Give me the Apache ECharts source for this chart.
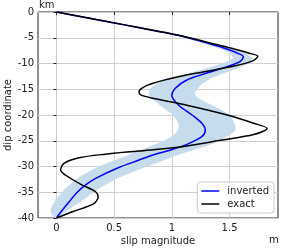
<!DOCTYPE html>
<html>
<head>
<meta charset="utf-8">
<script src="https://cdn.jsdelivr.net/npm/echarts@6/dist/echarts.min.js"></script>
<style>
html,body{margin:0;padding:0;background:#fff;}
#chart{width:283px;height:248px;}
</style>
</head>
<body>
<div id="chart"></div>
<script>
// dip coordinate (km) and slip magnitude (m)
var exactDip  = [0, -1, -2, -3, -4, -5, -6, -7, -8, -8.6, -9.5, -10.5, -11.6, -12.9, -14.2, -15.5, -16.1, -16.8, -18.1, -20, -21.6, -22.6, -23.8, -24.9, -26.2, -27, -27.6, -28.3, -29.4, -30.7, -31.7, -33.6, -34.9, -35.9, -37.2, -38.8, -40];
var exactSlip = [0, 0.24, 0.47, 0.71, 0.94, 1.15, 1.33, 1.51, 1.67, 1.745, 1.70, 1.54, 1.28, 0.99, 0.79, 0.715, 0.73, 0.845, 1.13, 1.48, 1.71, 1.825, 1.71, 1.42, 1.075, 0.71, 0.425, 0.195, 0.065, 0.036, 0.08, 0.223, 0.339, 0.361, 0.324, 0.137, 0];

var invDip  = [0, -1, -2, -3, -4, -5, -6, -7, -8, -8.7, -9.65, -10.6, -11.8, -13.2, -14.8, -16.2, -18.1, -20, -21.6, -22.9, -24.2, -25.7, -26.8, -27.8, -28.8, -30.2, -32.3, -33.6, -35, -36.9, -38.5, -40];
var invSlip = [0, 0.24, 0.47, 0.71, 0.94, 1.14, 1.30, 1.45, 1.57, 1.62, 1.59, 1.48, 1.31, 1.13, 1.03, 1.0, 1.06, 1.175, 1.26, 1.29, 1.26, 1.13, 0.99, 0.83, 0.71, 0.54, 0.34, 0.25, 0.18, 0.108, 0.05, 0];

var bandDip   = [0, -2, -3, -4, -5, -6, -7, -8, -9, -10, -11, -12, -13, -14, -15, -16, -17, -18, -19, -20, -21, -22, -23, -24, -25, -26, -27, -28, -29, -30, -31, -32, -33, -34, -35, -36, -37, -38, -39, -40];
var bandLower = [0, 0.47, 0.705, 0.93, 1.11, 1.26, 1.40, 1.50, 1.53, 1.43, 1.29, 1.12, 0.96, 0.86, 0.81, 0.80, 0.84, 0.89, 0.95, 1.01, 1.04, 1.06, 1.05, 1.01, 0.93, 0.82, 0.70, 0.60, 0.48, 0.37, 0.28, 0.20, 0.14, 0.09, 0.05, 0.01, -0.02, -0.045, -0.05, -0.01];
var bandUpper = [0, 0.47, 0.715, 0.95, 1.16, 1.33, 1.50, 1.64, 1.70, 1.66, 1.56, 1.44, 1.33, 1.26, 1.22, 1.20, 1.25, 1.34, 1.43, 1.50, 1.53, 1.55, 1.55, 1.49, 1.42, 1.30, 1.16, 1.02, 0.91, 0.79, 0.67, 0.56, 0.47, 0.39, 0.32, 0.26, 0.20, 0.13, 0.07, 0.02];

var xTicks = [0, 0.5, 1, 1.5];

function pairs(xs, ys){ return xs.map(function(x,i){ return [x, ys[i]]; }); }

var FONT = 'DejaVu Sans';
var chart = echarts.init(document.getElementById('chart'), null, {renderer:'canvas'});
chart.setOption({
  animation: false,
  backgroundColor: '#fff',
  grid: {left: 38, right: 5, top: 12, bottom: 30, containLabel: false, outerBoundsMode: 'none',
    show: true, borderColor: '#222', borderWidth: 1, backgroundColor: 'transparent'},
  xAxis: {
    type: 'value', min: -0.16, max: 1.92,
    name: 'slip magnitude', nameLocation: 'middle', nameGap: 18, nameMoveOverlap: false,
    nameTextStyle: {fontFamily: FONT, fontSize: 10, color: '#222'},
    axisLine: {show: false},
    axisTick: {show: true, length: 3, inside: false, customValues: xTicks, lineStyle: {color: '#222'}},
    axisLabel: {customValues: xTicks, fontFamily: FONT, fontSize: 10, color: '#222', margin: 5,
      formatter: function(v){ return String(v); }},
    splitLine: {show: true, lineStyle: {color: '#cfcfcf', width: 1}}
  },
  yAxis: {
    type: 'value', min: -40, max: 0, interval: 5,
    name: 'dip coordinate', nameLocation: 'middle', nameGap: 25, nameRotate: 90, nameMoveOverlap: false,
    nameTextStyle: {fontFamily: FONT, fontSize: 10, color: '#222'},
    axisLine: {show: false},
    axisTick: {show: true, length: 3, inside: false, lineStyle: {color: '#222'}},
    axisLabel: {fontFamily: FONT, fontSize: 10, color: '#222', margin: 4},
    splitLine: {show: true, lineStyle: {color: '#cfcfcf', width: 1}}
  },
  legend: {
    right: 9, bottom: 35, orient: 'vertical',
    backgroundColor: '#fff', borderColor: '#cccccc', borderWidth: 1, borderRadius: 3,
    padding: [4, 5, 4, 4], itemGap: 3, itemWidth: 18, itemHeight: 1.5, icon: 'rect',
    textStyle: {fontFamily: FONT, fontSize: 10, color: '#222', padding: [0, 0, 0, 3]},
    data: ['inverted', 'exact']
  },
  graphic: [
    {type: 'text', left: 39, top: 0, style: {text: 'km', fontFamily: FONT, fontSize: 10, fill: '#222'}},
    {type: 'text', left: 269, top: 235, style: {text: 'm', fontFamily: FONT, fontSize: 10, fill: '#222'}}
  ],
  series: [
    {
      type: 'custom', name: 'band', silent: true, clip: true, z: 1,
      data: [[0, 0]],
      renderItem: function(params, api){
        var pts = [];
        for (var i = 0; i < bandDip.length; i++) pts.push(api.coord([bandLower[i], bandDip[i]]));
        for (var j = bandDip.length - 1; j >= 0; j--) pts.push(api.coord([bandUpper[j], bandDip[j]]));
        return {type: 'polygon', shape: {points: pts, smooth: 0.2}, style: {fill: '#c6dbec', stroke: null}};
      }
    },
    {
      type: 'line', name: 'inverted', data: pairs(invSlip, invDip), smooth: 0.3,
      symbol: 'none', z: 3, lineStyle: {color: '#0000ff', width: 1.5}, itemStyle: {color: '#0000ff'}
    },
    {
      type: 'line', name: 'exact', data: pairs(exactSlip, exactDip), smooth: 0.3,
      symbol: 'none', z: 4, lineStyle: {color: '#000000', width: 1.5}, itemStyle: {color: '#000000'}
    }
  ]
});
</script>
</body>
</html>
